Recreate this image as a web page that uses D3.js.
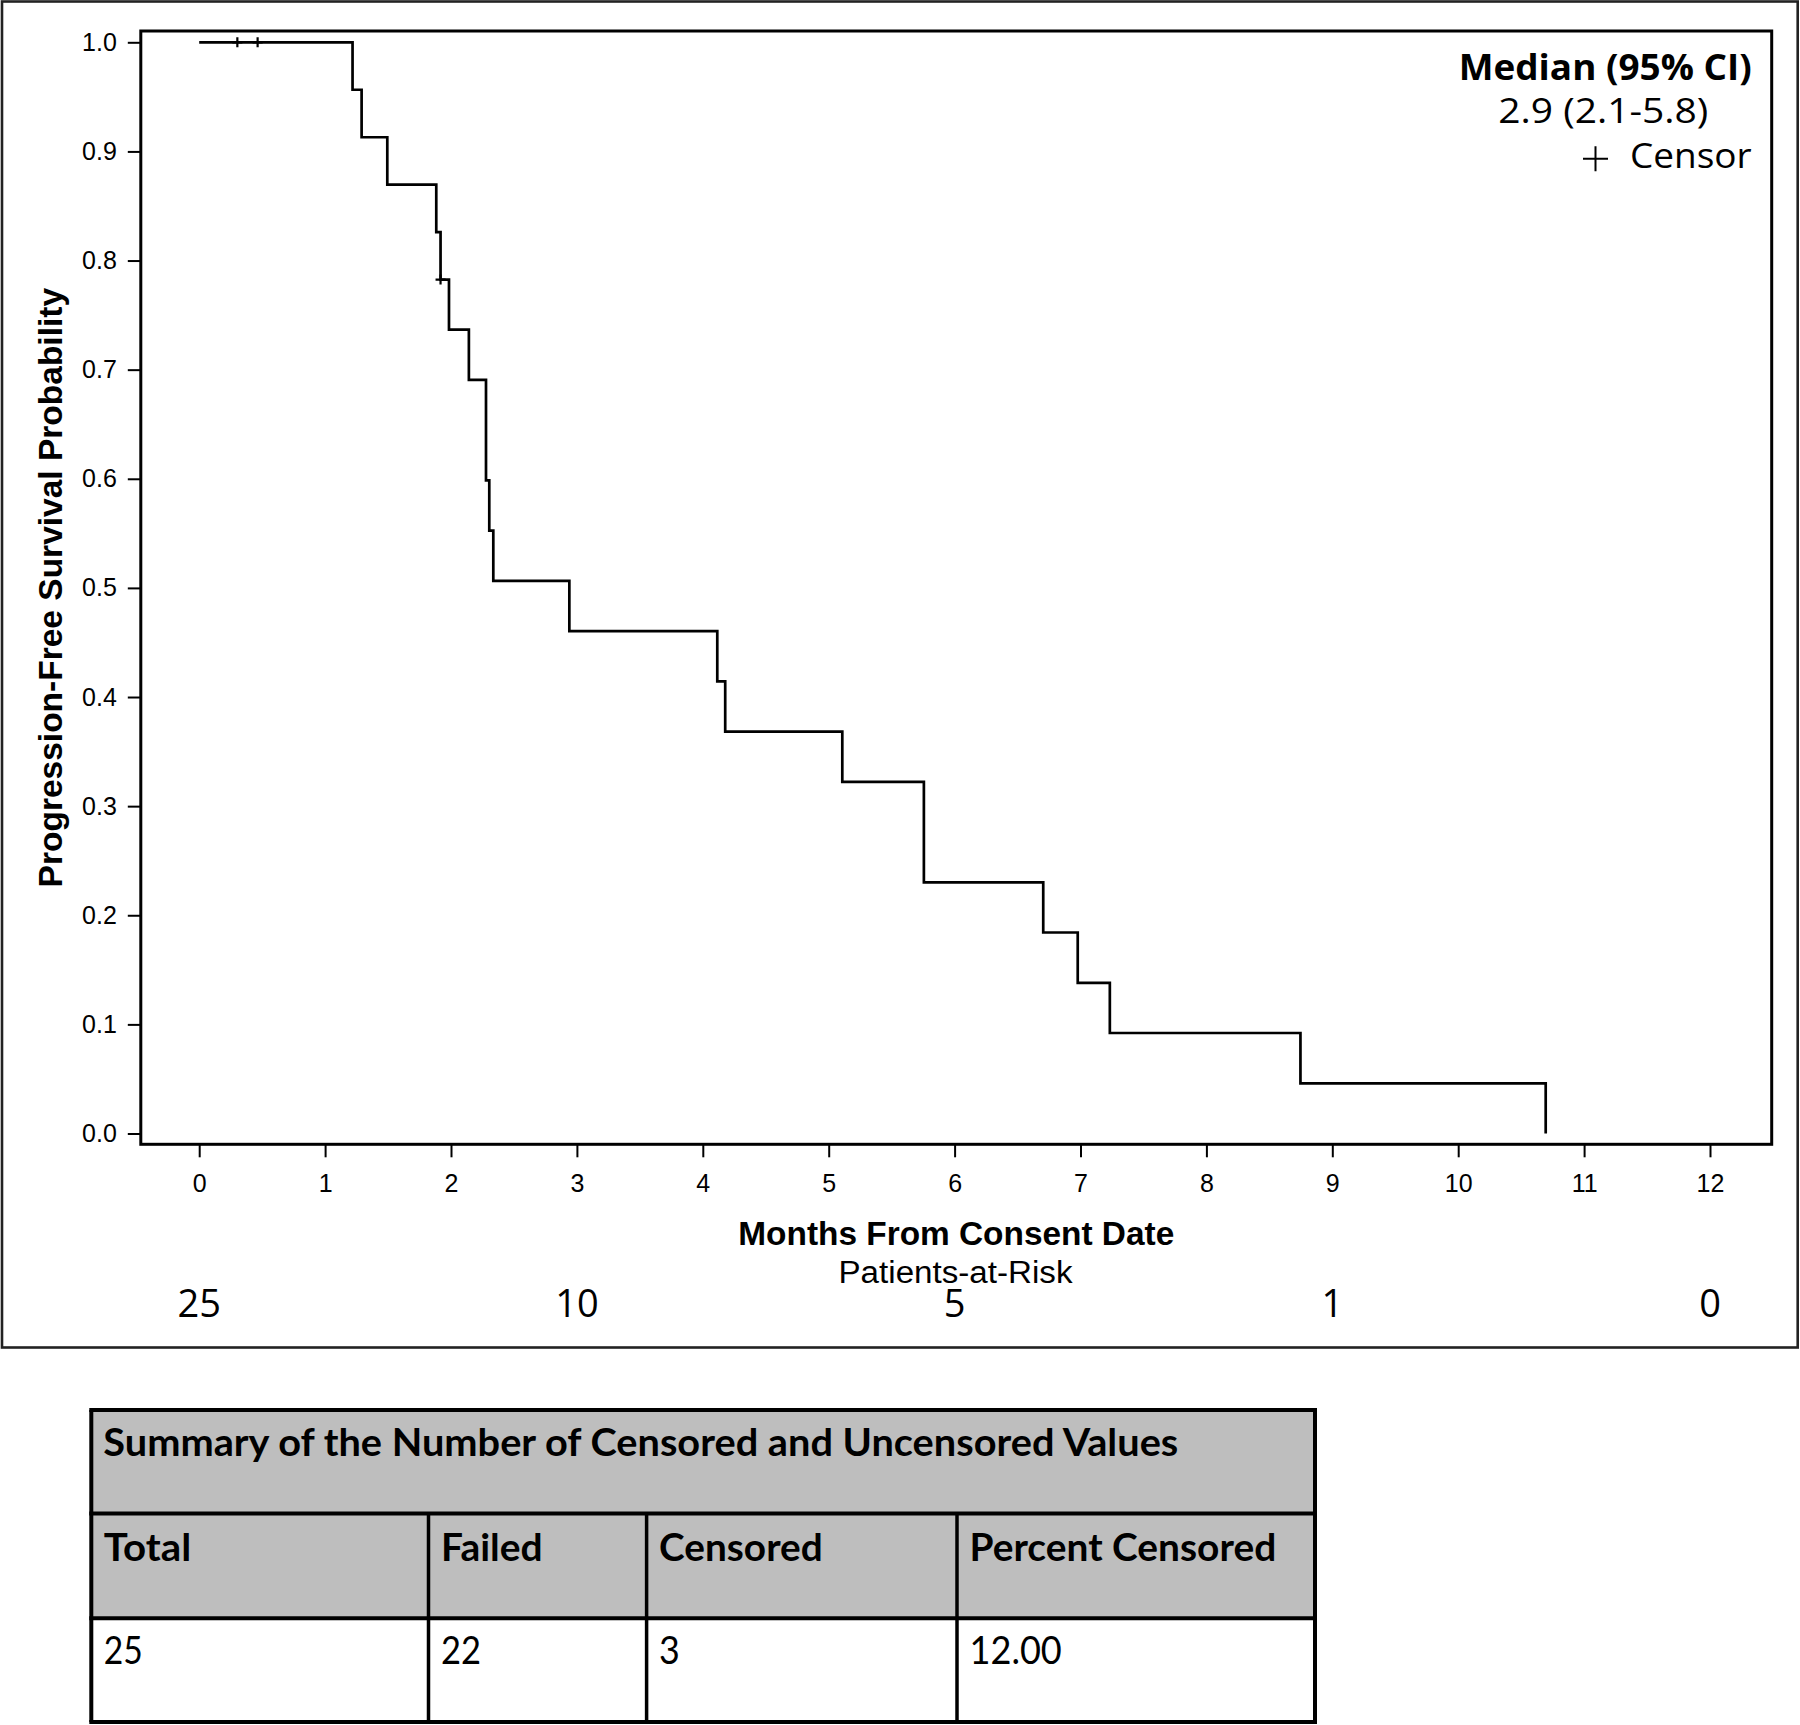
<!DOCTYPE html>
<html>
<head>
<meta charset="utf-8">
<script src="https://cdn.jsdelivr.net/npm/d3@7"></script>
<style>
  html, body { margin: 0; padding: 0; background: #fff; }
  svg { display: block; }
</style>
</head>
<body>
<div id="chart"></div>
<script>
// ---------------- Data ----------------
const stepTimes = [0, 1.218, 1.29, 1.494, 1.883, 1.917, 1.984, 2.142, 2.278, 2.304, 2.336, 2.94, 4.115, 4.178, 5.108, 5.756, 6.704, 6.978, 7.233, 8.747, 10.695];
const stepSurvival = [1.0, 0.9565, 0.9130, 0.8696, 0.8261, 0.7826, 0.7366, 0.6906, 0.5985, 0.5524, 0.5064, 0.4603, 0.4143, 0.3683, 0.3222, 0.2302, 0.1842, 0.1381, 0.0921, 0.0460, 0.0];
const censorTimes = [0.303, 0.464, 1.917];
const censorSurvival = [1.0, 1.0, 0.7826];
const xTicks = [0, 1, 2, 3, 4, 5, 6, 7, 8, 9, 10, 11, 12];
const yTicks = [0, 0.1, 0.2, 0.3, 0.4, 0.5, 0.6, 0.7, 0.8, 0.9, 1.0];
const atRiskTimes = [0, 3, 6, 9, 12];
const atRiskCounts = [25, 10, 5, 1, 0];
const xTitle = "Months From Consent Date";
const yTitle = "Progression-Free Survival Probability";
const atRiskTitle = "Patients-at-Risk";
const legendTitle = "Median (95% CI)";
const legendValue = "2.9 (2.1-5.8)";
const legendCensor = "Censor";
const tableTitle = "Summary of the Number of Censored and Uncensored Values";
const tableHeaders = ["Total", "Failed", "Censored", "Percent Censored"];
const tableValues = ["25", "22", "3", "12.00"];

// ---------------- Layout ----------------
const W = 1800, H = 1725;
const frame = { left: 140.8, right: 1771.7, top: 31, bottom: 1144.3 };
const svg = d3.select("#chart").append("svg").attr("width", W).attr("height", H);
svg.append("rect").attr("width", W).attr("height", H).attr("fill", "#fff");

// outer border
svg.append("rect").attr("x", 2).attr("y", 1.5).attr("width", 1795.7).attr("height", 1346)
  .attr("fill", "none").attr("stroke", "#222").attr("stroke-width", 2.6);

const x = d3.scaleLinear().domain([0, 12]).range([199.2, 1710]);
const y = d3.scaleLinear().domain([0, 1]).range([1133.5, 42.3]);

const ARIAL = "'Liberation Sans', Arial, sans-serif";
const SEGOE = "'Open Sans', 'Noto Sans', sans-serif";
const CALIBRI = "Lato, 'Open Sans', sans-serif";

// Y axis
const yAxis = svg.append("g").attr("transform", `translate(${frame.left},0)`)
  .call(d3.axisLeft(y).tickValues(yTicks).tickFormat(d3.format(".1f")).tickSize(13).tickPadding(11));
yAxis.select(".domain").remove();
yAxis.selectAll(".tick line").attr("stroke", "#000").attr("stroke-width", 2);
yAxis.selectAll(".tick text").attr("fill", "#000").style("font-family", ARIAL).style("font-size", "25px");

// X axis
const xAxis = svg.append("g").attr("transform", `translate(0,${frame.bottom})`)
  .call(d3.axisBottom(x).tickValues(xTicks).tickFormat(d3.format("d")).tickSize(13).tickPadding(16.6));
xAxis.select(".domain").remove();
xAxis.selectAll(".tick line").attr("stroke", "#000").attr("stroke-width", 2);
xAxis.selectAll(".tick text").attr("fill", "#000").style("font-family", ARIAL).style("font-size", "25px");

// frame
svg.append("rect").attr("x", frame.left).attr("y", frame.top)
  .attr("width", frame.right - frame.left).attr("height", frame.bottom - frame.top)
  .attr("fill", "none").attr("stroke", "#000").attr("stroke-width", 3);

// KM step curve
const pts = stepTimes.map((t, i) => [t, stepSurvival[i]]);
const line = d3.line().x(d => x(d[0])).y(d => y(d[1])).curve(d3.curveStepAfter);
svg.append("path").datum(pts).attr("d", line)
  .attr("fill", "none").attr("stroke", "#000").attr("stroke-width", 2.7);

// censor marks
const cz = 5;
svg.append("g").selectAll("path").data(censorTimes.map((t, i) => [t, censorSurvival[i]]))
  .join("path")
  .attr("d", d => `M${x(d[0]) - cz},${y(d[1])}H${x(d[0]) + cz}M${x(d[0])},${y(d[1]) - cz}V${y(d[1]) + cz}`)
  .attr("stroke", "#000").attr("stroke-width", 2.2).attr("fill", "none");

// axis titles
svg.append("text").attr("x", (frame.left + frame.right) / 2).attr("y", 1245)
  .attr("text-anchor", "middle").style("font-family", ARIAL).style("font-weight", "bold")
  .style("font-size", "33.4px").text(xTitle);
svg.append("text").attr("transform", `translate(62,${(frame.top + frame.bottom) / 2}) rotate(-90)`)
  .attr("text-anchor", "middle").style("font-family", ARIAL).style("font-weight", "bold")
  .style("font-size", "33.5px").text(yTitle);

// at risk
svg.append("text").attr("x", 955.5).attr("y", 1283).attr("text-anchor", "middle")
  .attr("textLength", 234).attr("lengthAdjust", "spacingAndGlyphs")
  .style("font-family", ARIAL).style("font-size", "31px").text(atRiskTitle);
svg.append("g").selectAll("text").data(atRiskTimes.map((t, i) => [t, atRiskCounts[i]]))
  .join("text").attr("x", d => x(d[0])).attr("y", 1316.5).attr("text-anchor", "middle")
  .style("font-family", SEGOE).style("font-size", "38px").text(d => d[1]);

// legend
svg.append("text").attr("x", 1751.7).attr("y", 80).attr("text-anchor", "end")
  .attr("textLength", 293).attr("lengthAdjust", "spacingAndGlyphs")
  .style("font-family", SEGOE).style("font-weight", "bold").style("font-size", "35px").text(legendTitle);
svg.append("text").attr("x", 1603.3).attr("y", 123).attr("text-anchor", "middle")
  .attr("textLength", 210).attr("lengthAdjust", "spacingAndGlyphs")
  .style("font-family", SEGOE).style("font-size", "35px").text(legendValue);
svg.append("path").attr("d", "M1583,158.7H1608M1595.5,146.2V171.2").attr("stroke", "#000").attr("stroke-width", 2);
svg.append("text").attr("x", 1751.7).attr("y", 168.3).attr("text-anchor", "end")
  .attr("textLength", 121.7).attr("lengthAdjust", "spacingAndGlyphs")
  .style("font-family", SEGOE).style("font-size", "35px").text(legendCensor);

// ---------------- Table ----------------
const colX = [91.3, 428.5, 646.6, 957, 1315];
const rowY = [1410, 1513.5, 1618.3, 1722];
const tbl = svg.append("g");
tbl.append("rect").attr("x", colX[0]).attr("y", rowY[0]).attr("width", colX[4] - colX[0]).attr("height", rowY[2] - rowY[0]).attr("fill", "#bebebe");
tbl.append("rect").attr("x", colX[0]).attr("y", rowY[2]).attr("width", colX[4] - colX[0]).attr("height", rowY[3] - rowY[2]).attr("fill", "#fff");
rowY.forEach(yy => tbl.append("line").attr("x1", colX[0] - 2).attr("x2", colX[4] + 2).attr("y1", yy).attr("y2", yy).attr("stroke", "#000").attr("stroke-width", 4));
tbl.append("line").attr("x1", colX[0]).attr("x2", colX[0]).attr("y1", rowY[0]).attr("y2", rowY[3]).attr("stroke", "#000").attr("stroke-width", 4);
tbl.append("line").attr("x1", colX[4]).attr("x2", colX[4]).attr("y1", rowY[0]).attr("y2", rowY[3]).attr("stroke", "#000").attr("stroke-width", 4);
[1, 2, 3].forEach(i => tbl.append("line").attr("x1", colX[i]).attr("x2", colX[i]).attr("y1", rowY[1]).attr("y2", rowY[3]).attr("stroke", "#000").attr("stroke-width", 3.5));

tbl.append("text").attr("x", 103.3).attr("y", 1455.5)
  .attr("textLength", 1075).attr("lengthAdjust", "spacingAndGlyphs")
  .style("font-family", CALIBRI).style("font-weight", "bold").style("font-size", "38px").text(tableTitle);
const headerWidths = [87.4, 101.6, 163.6, 306.7];
const valueWidths = [39, 40, 20.8, 92.3];
tbl.selectAll(".hdr").data(tableHeaders).join("text").attr("class", "hdr")
  .attr("x", (d, i) => colX[i] + 12.5).attr("y", 1560.5)
  .attr("textLength", (d, i) => headerWidths[i]).attr("lengthAdjust", "spacingAndGlyphs")
  .style("font-family", CALIBRI).style("font-weight", "bold").style("font-size", "38px").text(d => d);
tbl.selectAll(".val").data(tableValues).join("text").attr("class", "val")
  .attr("x", (d, i) => colX[i] + 12.5).attr("y", 1664)
  .attr("textLength", (d, i) => valueWidths[i]).attr("lengthAdjust", "spacingAndGlyphs")
  .style("font-family", CALIBRI).style("font-size", "38px").text(d => d);
</script>
</body>
</html>
